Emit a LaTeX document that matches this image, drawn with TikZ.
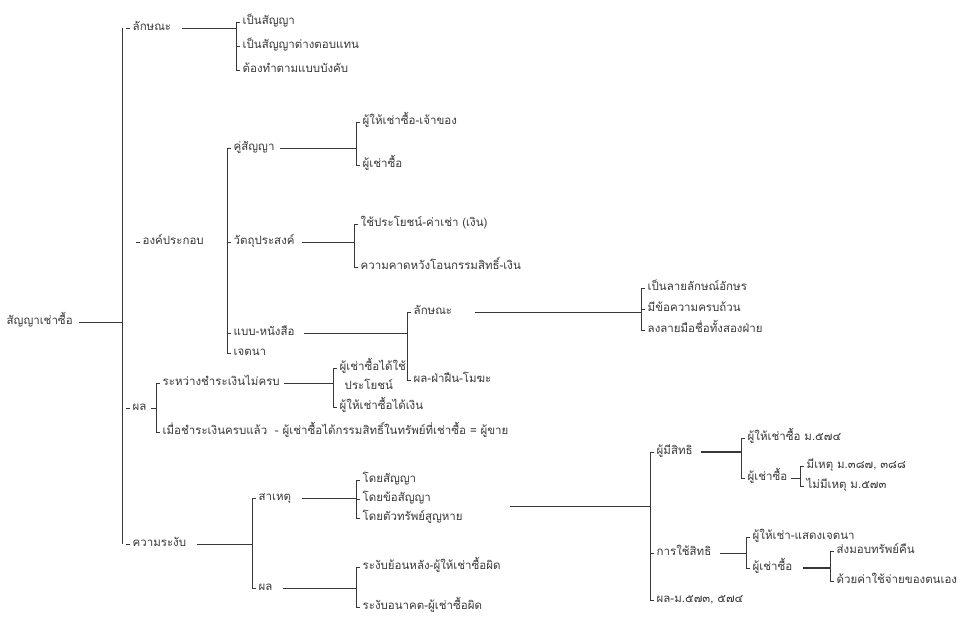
\documentclass[tikz,border=0pt]{standalone}
\usepackage{fontspec}
\newfontfamily\thaifont[Script=Thai]{Loma}
\usetikzlibrary{calc}
\definecolor{ink}{HTML}{383838}
\tikzset{>=latex}
\tikzset{
  txt/.style={anchor=west, inner xsep=2.5pt, inner ysep=1pt, text height=7pt, text depth=2pt,
    font=\thaifont\fontsize{11.5}{13}\selectfont, text=ink},
  link/.style={draw=ink, line width=0.6pt},
  heavy/.style={draw=ink, line width=1.3pt}
}

\begin{document}
\begin{tikzpicture}[x=1pt,y=-1pt]
  \useasboundingbox (0,0) rectangle (970,628);

  % Labels
  \node[txt] (root) at (4,322) {สัญญาเช่าซื้อ};
  \node[txt] (lak) at (130,28) {ลักษณะ};
  \node[txt] (ong) at (140,242) {องค์ประกอบ};
  \node[txt] (pol) at (130,408) {ผล};
  \node[txt] (rangab) at (130,544) {ความระงับ};

  \node[txt] (lak1) at (240,22) {เป็นสัญญา};
  \node[txt] (lak2) at (240,46) {เป็นสัญญาต่างตอบแทน};
  \node[txt] (lak3) at (240,70) {ต้องทำตามแบบบังคับ};

  \node[txt] (khu) at (231,148) {คู่สัญญา};
  \node[txt] (wat) at (231,242) {วัตถุประสงค์};
  \node[txt] (baep) at (231,333) {แบบ-หนังสือ};
  \node[txt] (jet) at (231,353) {เจตนา};

  \node[txt] (khu1) at (360,122) {ผู้ให้เช่าซื้อ-เจ้าของ};
  \node[txt] (khu2) at (360,165) {ผู้เช่าซื้อ};
  \node[txt] (wat1) at (358,224) {ใช้ประโยชน์-ค่าเช่า (เงิน)};
  \node[txt] (wat2) at (358,267) {ความคาดหวังโอนกรรมสิทธิ์-เงิน};
  \node[txt] (baep1) at (411,312) {ลักษณะ};
  \node[txt] (baep2) at (411,380) {ผล-ฝ่าฝืน-โมฆะ};
  \node[txt] (sign1) at (645,288) {เป็นลายลักษณ์อักษร};
  \node[txt] (sign2) at (645,309) {มีข้อความครบถ้วน};
  \node[txt] (sign3) at (645,330) {ลงลายมือชื่อทั้งสองฝ่าย};

  \node[txt] (pay1) at (160,383) {ระหว่างชำระเงินไม่ครบ};
  \node[txt] (pay2) at (160,432) {เมื่อชำระเงินครบแล้ว\ \ - ผู้เช่าซื้อได้กรรมสิทธิ์ในทรัพย์ที่เช่าซื้อ = ผู้ขาย};
  \node[txt] (use1) at (337,368) {ผู้เช่าซื้อได้ใช้};
  \node[txt] (use2) at (342,387) {ประโยชน์};
  \node[txt] (use3) at (337,407) {ผู้ให้เช่าซื้อได้เงิน};

  \node[txt] (cause) at (256,498) {สาเหตุ};
  \node[txt] (eff) at (256,588) {ผล};
  \node[txt] (cause1) at (360,480) {โดยสัญญา};
  \node[txt] (cause2) at (360,499) {โดยข้อสัญญา};
  \node[txt] (cause3) at (360,518) {โดยตัวทรัพย์สูญหาย};
  \node[txt] (eff1) at (360,567) {ระงับย้อนหลัง-ผู้ให้เช่าซื้อผิด};
  \node[txt] (eff2) at (360,607) {ระงับอนาคต-ผู้เช่าซื้อผิด};

  \node[txt] (holder) at (654,452) {ผู้มีสิทธิ};
  \node[txt] (exer) at (654,553) {การใช้สิทธิ};
  \node[txt] (sect) at (654,600) {ผล-ม.๕๗๓, ๕๗๔};
  \node[txt] (holder1) at (745,438) {ผู้ให้เช่าซื้อ ม.๕๗๔};
  \node[txt] (holder2) at (745,478) {ผู้เช่าซื้อ};
  \node[txt] (why1) at (804,466) {มีเหตุ ม.๓๘๗, ๓๘๘};
  \node[txt] (why2) at (804,486) {ไม่มีเหตุ ม.๕๗๓};
  \node[txt] (exer1) at (750,537) {ผู้ให้เช่า-แสดงเจตนา};
  \node[txt] (exer2) at (750,568) {ผู้เช่าซื้อ};
  \node[txt] (back1) at (834,551) {ส่งมอบทรัพย์คืน};
  \node[txt] (back2) at (834,581) {ด้วยค่าใช้จ่ายของตนเอง};

  \coordinate (split) at (510,506);

  % Ticks
  \foreach \c in {lak,ong,pol,rangab,lak1,lak2,lak3,khu,wat,baep,jet,
      khu1,khu2,wat1,wat2,baep1,baep2,sign1,sign2,sign3,pay1,pay2,use1,use3,
      cause,eff,cause1,cause2,cause3,eff1,eff2,holder,exer,sect,
      holder1,holder2,why1,why2,exer1,exer2,back1,back2}
    \draw[link] (\c.west) -- ++(-4,0);

  % Brackets
  \draw[link] ($(lak.west)+(-8,0)$) -- ($(rangab.west)+(-8,0)$);
  \draw[link] ($(lak1.west)+(-4,0)$) -- ($(lak3.west)+(-4,0)$);
  \draw[link] ($(khu.west)+(-4,0)$) -- ($(jet.west)+(-4,0)$);
  \draw[link] ($(khu1.west)+(-4,0)$) -- ($(khu2.west)+(-4,0)$);
  \draw[link] ($(wat1.west)+(-4,0)$) -- ($(wat2.west)+(-4,0)$);
  \draw[link] ($(baep1.west)+(-4,0)$) -- ($(baep2.west)+(-4,0)$);
  \draw[link] ($(sign1.west)+(-4,0)$) -- ($(sign3.west)+(-4,0)$);
  \draw[link] ($(pay1.west)+(-4,0)$) -- ($(pay2.west)+(-4,0)$);
  \draw[link] ($(use1.west)+(-4,0)$) -- ($(use3.west)+(-4,0)$);
  \draw[link] ($(cause.west)+(-4,0)$) -- ($(eff.west)+(-4,0)$);
  \draw[link] ($(cause1.west)+(-4,0)$) -- ($(cause3.west)+(-4,0)$);
  \draw[link] ($(eff1.west)+(-4,0)$) -- ($(eff2.west)+(-4,0)$);
  \draw[link] ($(holder.west)+(-4,0)$) -- ($(sect.west)+(-4,0)$);
  \draw[link] ($(holder1.west)+(-4,0)$) -- ($(holder2.west)+(-4,0)$);
  \draw[link] ($(why1.west)+(-4,0)$) -- ($(why2.west)+(-4,0)$);
  \draw[link] ($(exer1.west)+(-4,0)$) -- ($(exer2.west)+(-4,0)$);
  \draw[link] ($(back1.west)+(-4,0)$) -- ($(back2.west)+(-4,0)$);

  % Lines
  \draw[link] ($(root.east)+(4,0)$) -- ($(root.east -| lak.west)+(-8,0)$);
  \draw[link] ($(lak.east)+(8,0)$) -- ($(lak.east -| lak1.west)+(-4,0)$);
  \draw[link] ($(pol.east)+(2,0)$) -- ($(pol.east -| pay1.west)+(-4,0)$);
  \draw[link] ($(rangab.east)+(8,0)$) -- ($(rangab.east -| cause.west)+(-4,0)$);
  \draw[link] ($(khu.east)+(3,0)$) -- ($(khu.east -| khu1.west)+(-4,0)$);
  \draw[link] ($(wat.east)+(5,0)$) -- ($(wat.east -| wat1.west)+(-4,0)$);
  \draw[link] ($(baep.east)+(7,0)$) -- ($(baep.east -| baep1.west)+(-4,0)$);
  \draw[link] ($(baep1.east)+(20,0)$) -- ($(baep1.east -| sign1.west)+(-4,0)$);
  \draw[link] ($(pay1.east)+(2,0)$) -- ($(pay1.east -| use1.west)+(-4,0)$);
  \draw[link] ($(cause.east)+(8,0)$) -- ($(cause.east -| cause1.west)+(-4,0)$);
  \draw[link] ($(eff.east)+(8,0)$) -- ($(eff.east -| eff1.west)+(-4,0)$);
  \draw[link] (split) -- ($(split -| holder.west)+(-4,0)$);
  \draw[heavy] ($(holder.east)+(6,0)$) -- ($(holder.east -| holder1.west)+(-4,0)$);
  \draw[link] ($(holder2.east)+(1,0)$) -- ($(holder2.east -| why1.west)+(-4,0)$);
  \draw[link] ($(exer.east)+(6,0)$) -- ($(exer.east -| exer1.west)+(-4,0)$);
  \draw[heavy] ($(exer2.east)+(8,0)$) -- ($(exer2.east -| back1.west)+(-4,0)$);
\end{tikzpicture}
\end{document}
